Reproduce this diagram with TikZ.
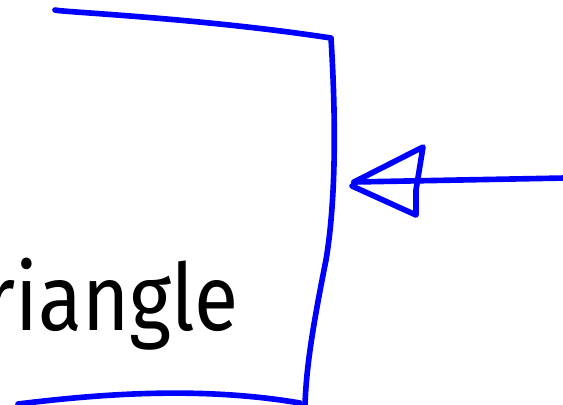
\documentclass[tikz,border=0pt]{standalone}
\usepackage{fontspec}
\setmainfont{Fira Sans}
\newfontfamily\labelfont[FakeStretch=0.87]{Fira Sans}
\usetikzlibrary{positioning}
\definecolor{penblue}{HTML}{0000FF}

\begin{document}
\begin{tikzpicture}[x=0.025cm,y=-0.025cm,
  pen/.style={draw=penblue,line width=4pt,line cap=round,line join=round},
  lbl/.style={font=\labelfont\fontsize{66}{70}\selectfont,inner sep=0pt}
]
\useasboundingbox (0,0) rectangle (563,404);
% hand drawn box
\coordinate (boxtl) at (55,10);
\coordinate (boxtr) at (331,38);
\coordinate (boxbr) at (305,406);
\coordinate (boxbl) at (18,404);
\coordinate (boxin) at (354,182);
\draw[pen] (boxtl) .. controls (60,12) and (200,18) .. (boxtr)
  .. controls (336,120) and (336,200) .. (326,260)
  .. controls (312,330) and (306,370) .. (boxbr);
\draw[pen] (boxbl) .. controls (100,394) and (200,386) .. (300,403);
\node[lbl,anchor=base east] (tri) at (239,330) {Triangle};
% arrow with open head
\coordinate (tail) at (565,178);
\coordinate (headup) at (423,147);
\coordinate (headdn) at (416,215);
\draw[pen] (tail) -- (boxin);
\draw[pen] (boxin) -- (headup) -- (416,190) -- (headdn) -- (352,186);
\end{tikzpicture}
\end{document}
